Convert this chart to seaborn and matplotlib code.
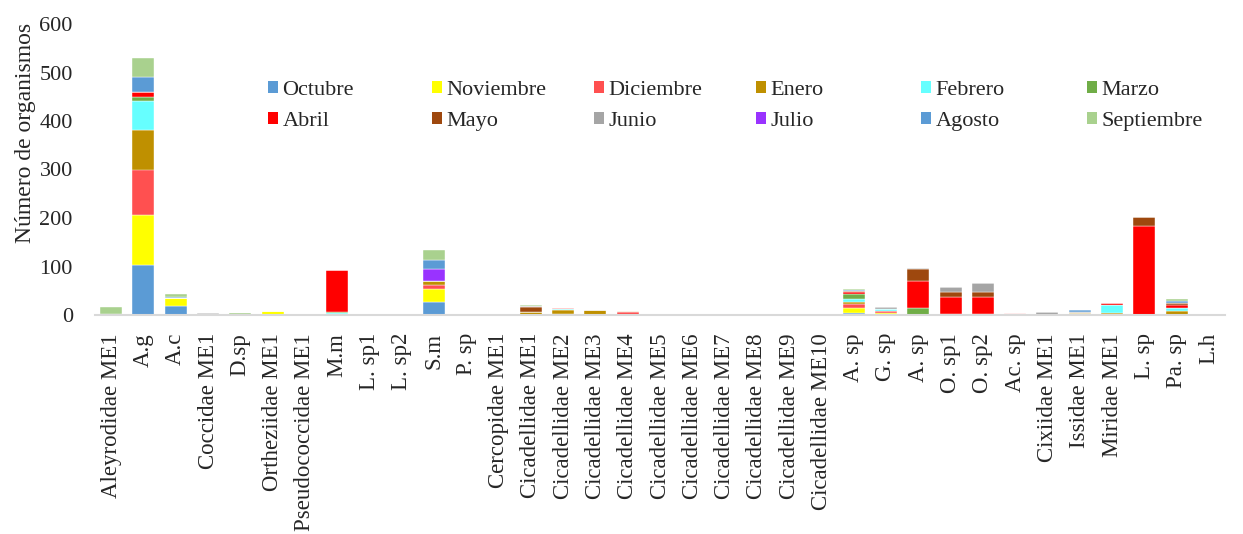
import matplotlib
matplotlib.use("Agg")
import matplotlib.pyplot as plt
import seaborn as sns
import numpy as np
from matplotlib.patches import Patch

categories = ["Aleyrodidae ME1", "A.g", "A.c", "Coccidae ME1", "D.sp", "Ortheziidae ME1",
              "Pseudococcidae ME1", "M.m", "L. sp1", "L. sp2", "S.m", "P. sp", "Cercopidae ME1",
              "Cicadellidae ME1", "Cicadellidae ME2", "Cicadellidae ME3", "Cicadellidae ME4",
              "Cicadellidae ME5", "Cicadellidae ME6", "Cicadellidae ME7", "Cicadellidae ME8",
              "Cicadellidae ME9", "Cicadellidae ME10", "A. sp", "G. sp", "A. sp", "O. sp1",
              "O. sp2", "Ac. sp", "Cixiidae ME1", "Issidae ME1", "Miridae ME1", "L. sp",
              "Pa. sp", "L.h"]

months = ["Octubre", "Noviembre", "Diciembre", "Enero", "Febrero", "Marzo",
          "Abril", "Mayo", "Junio", "Julio", "Agosto", "Septiembre"]
colors = ["#5B9BD5", "#FFFF00", "#FF5050", "#BF9000", "#66FFFF", "#70AD47",
          "#FF0000", "#9E480E", "#A5A5A5", "#9933FF", "#5B9BD5", "#A9D18E"]

#            0   1   2  3  4  5  6   7  8  9  10 11 12 13 14 15 16 17 18 19 20 21 22 23 24 25  26  27 28 29 30  31   32 33 34
octubre    = [2, 103, 18, 0, 0, 0, 0,  0, 0, 0, 27, 0, 0, 0, 0, 0, 0, 0, 0, 0, 0, 0, 0, 5, 0, 0,  0,  0, 0, 0, 0,  0,   0, 0, 0]
noviembre  = [0, 103, 18, 0, 0, 9, 0,  0, 0, 0, 26, 0, 0, 0, 3, 0, 1, 0, 0, 0, 0, 0, 0,10, 5, 0,  0,  0, 0, 0, 0,  0,   0, 0, 0]
diciembre  = [0,  94,  0, 0, 0, 0, 0,  0, 0, 0,  9, 0, 0, 0, 0, 0, 5, 0, 0, 0, 0, 0, 0, 8, 3, 0,  0,  0, 4, 0, 0,  0,   0, 1, 0]
enero      = [0,  82,  0, 0, 0, 0, 0,  0, 0, 0,  9, 0, 0, 6, 7,10, 2, 0, 0, 0, 0, 0, 0, 3, 0, 0,  0,  0, 0, 0, 4,  4,   0, 8, 0]
febrero    = [0,  59,  0, 0, 0, 0, 0,  5, 0, 0,  0, 0, 0, 0, 2, 1, 0, 0, 0, 1, 0, 0, 0, 8, 4, 0,  0,  0, 0, 0, 0, 16,   0, 5, 0]
marzo      = [0,   9,  0, 0, 0, 0, 0,  1, 0, 0,  0, 0, 0, 0, 0, 0, 0, 0, 0, 0, 0, 0, 0,10, 0,15,  3,  3, 0, 0, 0,  0,   0, 0, 0]
abril      = [0,  10,  0, 0, 0, 0, 0, 87, 0, 0,  0, 0, 0, 0, 2, 0, 0, 0, 0, 0, 0, 0, 0, 3, 0,56, 35, 35, 0, 0, 0,  4, 183, 6, 0]
mayo       = [0,   0,  0, 0, 0, 0, 0,  0, 0, 2,  0, 0, 0,10, 0, 0, 0, 3, 0, 0, 0, 0, 0, 2, 1,23, 10, 10, 0, 0, 0,  0,  19, 5, 0]
junio      = [0,   0,  0, 4, 0, 0, 0,  0, 0, 0,  0, 0, 0, 3, 1, 0, 0, 0, 1, 0, 1, 0, 0, 0, 4, 2, 10, 19, 0, 6, 3,  0,   0, 0, 0]
julio      = [0,   0,  0, 0, 0, 0, 0,  0, 0, 0, 23, 0, 0, 0, 0, 0, 0, 0, 0, 0, 0, 0, 0, 0, 0, 0,  0,  0, 0, 0, 0,  0,   0, 0, 0]
agosto     = [0,  31,  2, 0, 0, 0, 0,  0, 0, 0, 19, 0, 0, 0, 0, 0, 0, 0, 0, 0, 0, 0, 0, 2, 0, 0,  0,  0, 0, 0, 3,  0,   0, 4, 0]
septiembre = [15, 38,  5, 0, 4, 0, 0,  0, 0, 0, 20, 0, 0, 2, 0, 0, 0, 0, 0, 0, 0, 0, 0, 2, 0, 0,  0,  0, 0, 0, 1,  0,   0, 5, 0]

series = [octubre, noviembre, diciembre, enero, febrero, marzo,
          abril, mayo, junio, julio, agosto, septiembre]
yticks = [0, 100, 200, 300, 400, 500, 600]

sns.set_theme(style="white")
plt.rcParams['font.family'] = ['Liberation Serif', 'DejaVu Serif']

W, H = 1243, 534
fig = plt.figure(figsize=(W / 100, H / 100), dpi=100)
ax = fig.add_axes([95 / W, 1 - 315 / H, 1130 / W, 291 / H])

positions = list(range(len(categories)))
bottom = np.zeros(len(categories))
for m, c, vals in zip(months, colors, series):
    sns.barplot(x=positions, y=vals, bottom=bottom.copy(), color=c, width=0.68,
                edgecolor="white", linewidth=0.3, errorbar=None, saturation=1, ax=ax)
    bottom += np.array(vals, dtype=float)

ax.set_ylim(0, 600)
ax.set_xlim(-0.5, len(categories) - 0.5)
ax.set_yticks(yticks)
ax.set_yticklabels([str(v) for v in yticks], fontsize=16)
ax.set_xticks(positions)
ax.set_xticklabels(categories, rotation=90, fontsize=16.5)
ax.tick_params(axis="both", length=0)
ax.tick_params(axis="y", pad=16)
ax.tick_params(axis="x", pad=13)
for s in ["top", "right", "left"]:
    ax.spines[s].set_visible(False)
ax.spines["bottom"].set_color("#D9D9D9")
ax.spines["bottom"].set_linewidth(1.5)
ax.set_ylabel("Número de organismos", fontsize=17)
ax.yaxis.set_label_coords(-0.052, 0.625)
ax.set_xlabel("")
ax.grid(False)

# Legend: 6 columns x 2 rows with uniform column pitch
col_x = [268, 432, 594, 756, 921, 1087]
for j in range(6):
    handles = [Patch(facecolor=colors[j], edgecolor="none"),
               Patch(facecolor=colors[j + 6], edgecolor="none")]
    labels = [months[j], months[j + 6]]
    fig.legend(handles, labels, loc="upper left",
               bbox_to_anchor=(col_x[j] / W, 1 - 81 / H),
               bbox_transform=fig.transFigure, frameon=False, fontsize=16,
               handlelength=0.45, handleheight=0.45, handletextpad=0.2,
               borderpad=0, borderaxespad=0, labelspacing=0.55)

fig.savefig("out.png", dpi=100)
